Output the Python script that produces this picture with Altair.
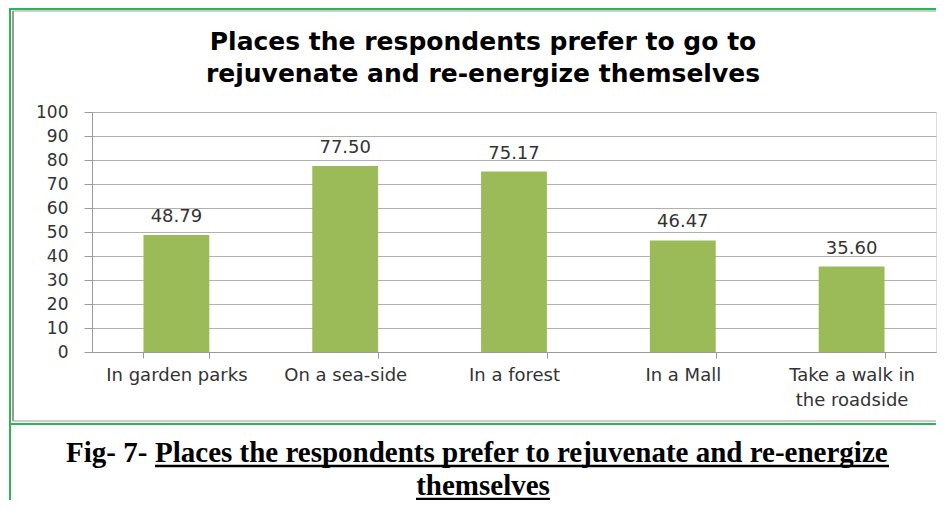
import altair as alt
import pandas as pd

places = ["In garden parks", "On a sea-side", "In a forest", "In a Mall", "Take a walk in the roadside"]
values = [48.79, 77.50, 75.17, 46.47, 35.60]
y_ticks = [0, 10, 20, 30, 40, 50, 60, 70, 80, 90, 100]
title_lines = ["Places the respondents prefer to go to", "rejuvenate and re-energize themselves"]
caption_prefix = "Fig- 7-"
caption_main = "Places the respondents prefer to rejuvenate and re-energize"
caption_line2 = "themselves"

df = pd.DataFrame({"place": places, "value": values})
one = pd.DataFrame({"k": [0]})

W, H = 844, 240
GREEN = "#2db35a"
GRAY = "#9a9a9a"

x_enc = alt.X(
    "place:N", sort=places, title=None,
    scale=alt.Scale(paddingInner=0.61, paddingOuter=0.305),
    axis=alt.Axis(
        labelAngle=0, labelFont="DejaVu Sans", labelFontSize=18, labelColor="#333333",
        labelLimit=0, labelPadding=8, labelLineHeight=25, labelOverlap=False,
        labelExpr="datum.label == 'Take a walk in the roadside' ? ['Take a walk in', 'the roadside'] : datum.label",
        tickBand="extent", tickSize=6, tickColor=GRAY, domainColor=GRAY, grid=False,
    ),
)
y_enc = alt.Y(
    "value:Q", title=None,
    scale=alt.Scale(domain=[0, 100], nice=False),
    axis=alt.Axis(
        values=y_ticks, labelFont="DejaVu Sans", labelFontSize=17, labelColor="#333333",
        labelPadding=16, labelOverlap=False, tickSize=8, tickColor=GRAY, domainColor=GRAY,
        gridColor="#b0b0b0", gridWidth=1,
    ),
)

bars = alt.Chart(df).mark_bar(color="#9bbb59").encode(x=x_enc, y=y_enc)
labels = alt.Chart(df).mark_text(
    font="DejaVu Sans", fontSize=18, color="#333333", baseline="alphabetic", dy=-13
).encode(x=x_enc, y=y_enc, text=alt.Text("value:Q", format=".2f"))


def rule(x, x2, y, y2, color, w):
    return alt.Chart(one).mark_rule(color=color, strokeWidth=w).encode(
        x=alt.value(x), x2=alt.value(x2), y=alt.value(y), y2=alt.value(y2)
    )


def text(t, x, y, **kw):
    return alt.Chart(one).mark_text(text=t, **kw).encode(x=alt.value(x), y=alt.value(y))


frame = [
    rule(-82, -82, -104, 388, GREEN, 2),
    rule(-82, 844, -103, -103, GREEN, 2),
    rule(-82, 844, 312, 312, GREEN, 2),
    rule(-79, -79, -101, 309, GRAY, 2),
    rule(-79, 844, -101, -101, GRAY, 1),
    rule(-79, 844, 309, 309, GRAY, 1),
]

title_font = dict(font="DejaVu Sans", fontSize=25, fontWeight="bold", color="#000000", align="center", baseline="alphabetic")
titles = [
    text(title_lines[0], 391, -62, **title_font),
    text(title_lines[1], 391, -30, **title_font),
]

cap_font = dict(font="Liberation Serif", fontSize=29, fontWeight="bold", color="#000000", baseline="alphabetic")
caption = [
    text(caption_prefix, -26, 350, align="left", **cap_font),
    text(caption_main, 63, 350, align="left", **cap_font),
    rule(63, 797, 354, 354, "#000000", 2.5),
    text(caption_line2, 391, 383, align="center", **cap_font),
    rule(324, 458, 387, 387, "#000000", 2.5),
]

chart = alt.layer(bars, labels, *frame, *titles, *caption).properties(
    width=W, height=H,
    autosize=alt.AutoSizeParams(type="none"),
    padding={"left": 84, "top": 104, "right": 4, "bottom": 148},
).configure_view(stroke=None).configure(background="#ffffff")

chart.save("out.html", embed_options={"renderer": "svg", "actions": False})
